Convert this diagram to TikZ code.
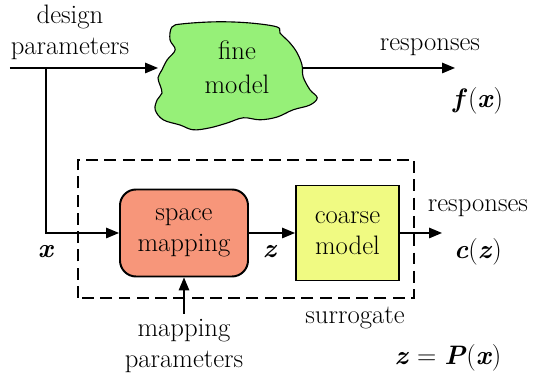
\documentclass[tikz,border=0pt]{standalone}
\usepackage{fontspec}
\usetikzlibrary{arrows.meta}
\definecolor{finegreen}{RGB}{150,240,120}
\definecolor{mapsalmon}{RGB}{247,150,122}
\definecolor{coarseyellow}{RGB}{240,250,130}
\newcommand{\bv}[1]{\textbf{\textit{#1}}}
\begin{document}
\begin{tikzpicture}[font=\fontsize{19}{22}\selectfont,
  blk/.style={draw=black,line width=1.4pt,minimum width=2.575cm,minimum height=2.375cm,align=center},
  lbl/.style={align=center,inner sep=0pt},
  con/.style={line width=0.9pt,-{Triangle[length=0.32cm,width=0.26cm]}}]
\useasboundingbox (0,0) rectangle (13.35,9.475);
% fine model
\draw[fill=finegreen,line width=0.8pt] plot[smooth cycle,tension=0.6] coordinates {
  (4.30,8.80) (4.58,8.88) (5.43,8.93) (6.25,8.90) (6.93,8.80) (7.00,8.65) (7.25,8.40)
  (7.43,8.15) (7.55,7.85) (7.58,7.55) (7.75,7.23) (7.93,7.03) (7.75,6.85) (7.33,6.73)
  (6.93,6.55) (6.50,6.48) (6.08,6.53) (5.68,6.40) (5.25,6.28) (4.83,6.23) (4.50,6.35)
  (4.08,6.48) (3.88,6.73) (3.93,6.98) (4.05,7.15) (4.00,7.35) (3.95,7.53) (4.05,7.73)
  (4.18,7.98) (4.38,8.23) (4.25,8.48)};
\node[lbl] (FM) at (5.925,7.8) {fine\\[2pt]model};
\coordinate (FMin) at (3.95,7.775);
\coordinate (FMout) at (7.58,7.775);
% surrogate
\draw[line width=0.8pt,dash pattern=on 8.5pt off 4.5pt] (1.95,2.025) rectangle (10.35,5.475);
\node[blk,fill=mapsalmon,rounded corners=0.4cm,minimum width=3.2cm,minimum height=2.175cm] (SM) at (4.6,3.65) {space\\mapping};
\node[blk,fill=coarseyellow] (CM) at (8.6875,3.65) {coarse\\model};
\node[lbl] (SU) at (8.875,1.525) {surrogate};
% inputs and outputs
\node[lbl] (DP) at (1.75,8.66) {design\\parameters};
\coordinate (DPin) at (0.25,7.775);
\coordinate (BR) at (1.15,7.775);
\coordinate (FR) at (11.375,7.775);
\coordinate (CR) at (11.05,3.65);
\node[lbl] (RF) at (10.75,8.3) {responses};
\node[lbl] (FX) at (11.95,6.95) {\bv{f\,}(\bv{x})};
\node[lbl] (RC) at (11.95,4.275) {responses};
\node[lbl] (CZ) at (11.95,3.175) {\bv{c}(\bv{z})};
\node[lbl] (X) at (1.15,3.175) {\bv{x}};
\node[lbl] (Z) at (6.75,3.175) {\bv{z}};
\node[lbl] (MP) at (4.6,0.82) {mapping\\parameters};
\node[lbl] (ZP) at (11.2,0.525) {\bv{z} = \bv{P}(\bv{x})};
% connectors
\draw[con] (DPin) -- (FMin);
\draw[con] (BR) |- (SM.west);
\draw[con] (FMout) -- (FR);
\draw[con] (SM) -- (CM);
\draw[con] (CM) -- (CR);
\draw[con] ([yshift=4pt]MP.north) -- (SM.south);
\end{tikzpicture}
\end{document}
